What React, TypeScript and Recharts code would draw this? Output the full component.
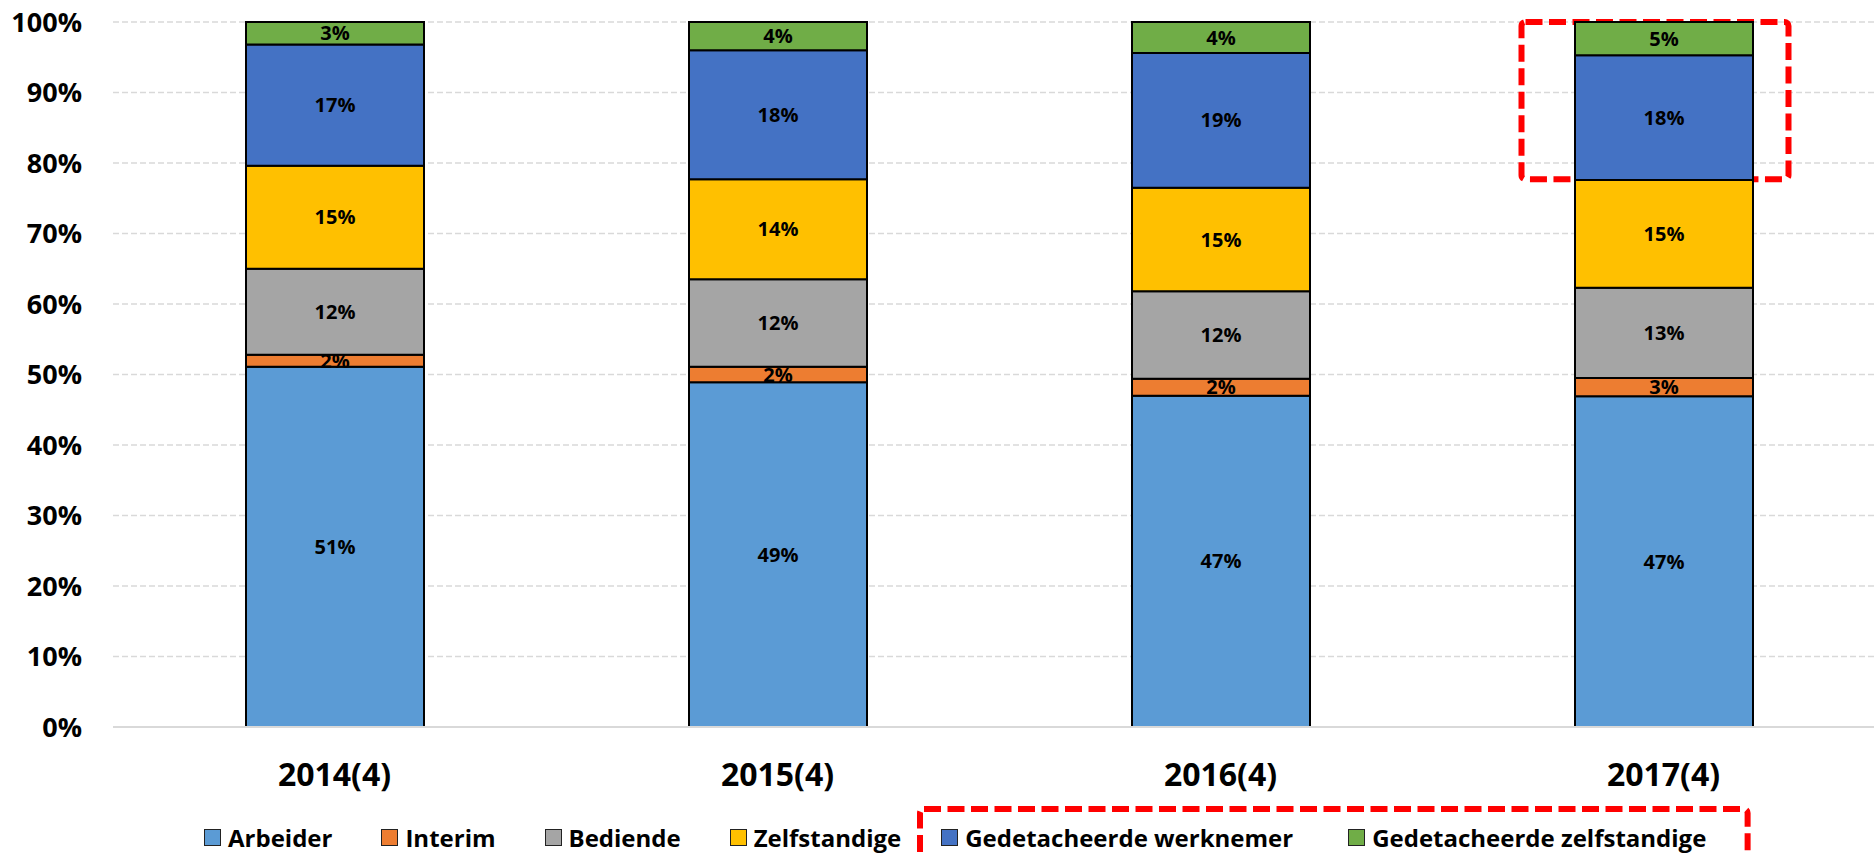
import React from 'react';
import {
  BarChart,
  Bar,
  XAxis,
  YAxis,
  CartesianGrid,
  Legend,
  LabelList,
  ReferenceArea,
} from 'recharts';

const FONT = '"Open Sans", "Noto Sans", sans-serif';

const categories = ['2014(4)', '2015(4)', '2016(4)', '2017(4)'];
const arbeider = [51.1, 48.9, 47.0, 46.9];
const interim = [1.7, 2.2, 2.4, 2.6];
const bediende = [12.2, 12.4, 12.4, 12.8];
const zelfstandige = [14.6, 14.2, 14.7, 15.3];
const gedWerknemer = [17.2, 18.3, 19.1, 17.7];
const gedZelfstandige = [3.2, 4.0, 4.4, 4.7];
const yTicks = [0, 10, 20, 30, 40, 50, 60, 70, 80, 90, 100];

const series = [
  { key: 'arbeider', name: 'Arbeider', color: '#5B9BD5', values: arbeider },
  { key: 'interim', name: 'Interim', color: '#ED7D31', values: interim },
  { key: 'bediende', name: 'Bediende', color: '#A5A5A5', values: bediende },
  { key: 'zelfstandige', name: 'Zelfstandige', color: '#FFC000', values: zelfstandige },
  { key: 'gedWerknemer', name: 'Gedetacheerde werknemer', color: '#4472C4', values: gedWerknemer },
  { key: 'gedZelfstandige', name: 'Gedetacheerde zelfstandige', color: '#70AD47', values: gedZelfstandige },
];

const data = categories.map((category, i) => {
  const row: Record<string, string | number> = { category };
  series.forEach((s) => {
    row[s.key] = s.values[i];
  });
  return row;
});

// red dashed annotation around the top two segments of the last bar
const HighlightBox = (props: any) => {
  const { x, y, width, height } = props;
  const cx = x + width / 2;
  return (
    <rect
      x={cx - 142}
      y={y}
      width={267}
      height={height}
      rx={4}
      fill="none"
      stroke="#FF0000"
      strokeWidth={6}
      strokeDasharray="17 6.5"
    />
  );
};

const LegendItem = ({ name, color, gap }: { name: string; color: string; gap: number }) => (
  <div style={{ display: 'flex', alignItems: 'center', marginLeft: gap }}>
    <span
      style={{
        display: 'inline-block',
        width: 15,
        height: 15,
        background: color,
        border: '1.5px solid #222',
        marginRight: 7,
      }}
    />
    <span
      style={{
        fontSize: 24,
        fontWeight: 700,
        lineHeight: '17px',
        color: '#000',
        whiteSpace: 'nowrap',
      }}
    >
      {name}
    </span>
  </div>
);

const renderLegend = () => (
  <div style={{ position: 'relative', height: 45, width: 1874, fontFamily: FONT }}>
    <div style={{ position: 'absolute', left: 204, top: 21, display: 'flex', alignItems: 'center', height: 17 }}>
      {series.slice(0, 4).map((s, i) => (
        <LegendItem key={s.key} name={s.name} color={s.color} gap={i === 0 ? 0 : 49} />
      ))}
      <div style={{ position: 'relative', display: 'flex', alignItems: 'center', marginLeft: 40 }}>
        {series.slice(4).map((s, i) => (
          <LegendItem key={s.key} name={s.name} color={s.color} gap={i === 0 ? 0 : 55} />
        ))}
        <svg
          style={{
            position: 'absolute',
            left: -21.5,
            top: -20.5,
            width: 'calc(100% + 62.5px)',
            height: 80,
            overflow: 'visible',
          }}
        >
          <rect
            x={0}
            y={0}
            width="100%"
            height="100%"
            rx={4}
            fill="none"
            stroke="#FF0000"
            strokeWidth={6}
            strokeDasharray="17 6.5"
          />
        </svg>
      </div>
    </div>
  </div>
);

export default function App() {
  return (
    <div
      style={{
        position: 'absolute',
        left: 0,
        top: 0,
        width: 1874,
        height: 853,
        overflow: 'hidden',
        background: '#fff',
        fontFamily: FONT,
      }}
    >
      <BarChart
        width={1885}
        height={853}
        data={data}
        margin={{ top: 22, right: 0, left: 0, bottom: 0 }}
        barSize={178}
      >
        <CartesianGrid vertical={false} stroke="#d9d9d9" strokeWidth={1.5} strokeDasharray="6 3" />
        <XAxis
          dataKey="category"
          height={81}
          axisLine={{ stroke: '#d9d9d9', strokeWidth: 2 }}
          tickLine={false}
          tickMargin={30}
          tick={{ fontSize: 32, fontWeight: 700, fill: '#000', fontFamily: FONT }}
        />
        <YAxis
          width={113}
          domain={[0, 100]}
          ticks={yTicks}
          axisLine={false}
          tickLine={false}
          tickMargin={25}
          tickFormatter={(v: number) => `${v}%`}
          tick={{ fontSize: 27, fontWeight: 700, fill: '#000', fontFamily: FONT }}
        />
        <Legend verticalAlign="bottom" content={renderLegend} />
        {series.map((s) => (
          <Bar
            key={s.key}
            dataKey={s.key}
            name={s.name}
            stackId="a"
            fill={s.color}
            stroke="#000"
            strokeWidth={2}
            isAnimationActive={false}
          >
            <LabelList
              dataKey={s.key}
              position="center"
              formatter={(v: any) => `${Math.round(Number(v))}%`}
              style={{ fontSize: 20, fontWeight: 700, fill: '#000', fontFamily: FONT }}
            />
          </Bar>
        ))}
        <ReferenceArea
          x1="2017(4)"
          x2="2017(4)"
          y1={77.7}
          y2={100}
          ifOverflow="visible"
          shape={HighlightBox}
        />
      </BarChart>
    </div>
  );
}
